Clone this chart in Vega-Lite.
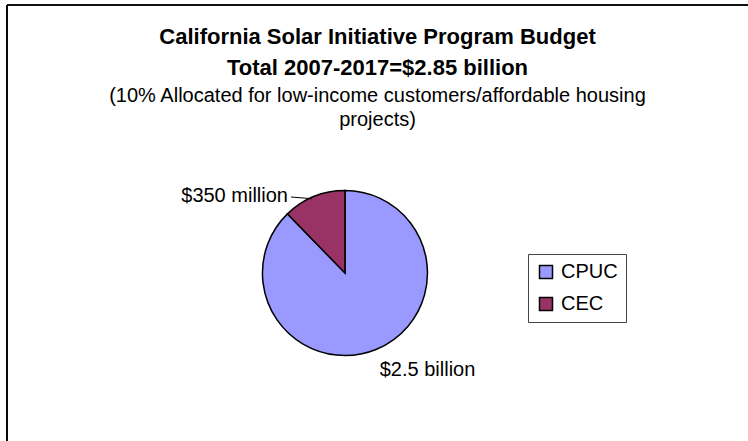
{
  "$schema": "https://vega.github.io/schema/vega-lite/v6.json",
  "width": 741,
  "height": 436,
  "autosize": {"type": "none"},
  "padding": {"left": 7, "top": 5, "right": 0, "bottom": 0},
  "background": "white",
  "config": {
    "view": {"stroke": null},
    "font": "Liberation Sans",
    "title": {"font": "Liberation Sans", "subtitleFont": "Liberation Sans"}
  },
  "title": {
    "text": ["California Solar Initiative Program Budget", "Total 2007-2017=$2.85 billion"],
    "subtitle": ["(10% Allocated for low-income customers/affordable housing", "projects)"],
    "anchor": "middle",
    "frame": "group",
    "orient": "top",
    "offset": -127,
    "fontSize": 22,
    "fontWeight": "bold",
    "lineHeight": 31,
    "color": "black",
    "subtitleFontSize": 20,
    "subtitleLineHeight": 24,
    "subtitleColor": "black",
    "subtitlePadding": 6
  },
  "data": {
    "values": [
      {"agency": "CPUC", "amount": 2500, "label": "$2.5 billion"},
      {"agency": "CEC", "amount": 350, "label": "$350 million"}
    ]
  },
  "layer": [
    {
      "mark": {"type": "rule", "color": "black", "strokeWidth": 1.6},
      "encoding": {
        "x": {"datum": 0, "type": "quantitative", "scale": {"domain": [0, 1]}, "axis": null}
      }
    },
    {
      "mark": {"type": "rule", "color": "black", "strokeWidth": 1.6},
      "encoding": {
        "y": {"datum": 1, "type": "quantitative", "scale": {"domain": [0, 1]}, "axis": null}
      }
    },
    {
      "mark": {"type": "arc", "outerRadius": 82.5, "stroke": "black", "strokeWidth": 1.5},
      "encoding": {
        "theta": {"field": "amount", "type": "quantitative", "stack": true},
        "order": {"field": "amount", "sort": "descending"},
        "x": {"datum": 0.4561, "type": "quantitative", "scale": {"domain": [0, 1]}, "axis": null},
        "y": {"datum": 0.3853, "type": "quantitative", "scale": {"domain": [0, 1]}, "axis": null},
        "color": {
          "field": "agency",
          "type": "nominal",
          "sort": ["CPUC", "CEC"],
          "scale": {"domain": ["CPUC", "CEC"], "range": ["#9999FF", "#993366"]},
          "legend": {
            "title": null,
            "orient": "none",
            "legendX": 521,
            "legendY": 249,
            "padding": 8,
            "strokeColor": "#444444",
            "fillColor": "white",
            "symbolType": "square",
            "symbolSize": 169,
            "symbolStrokeColor": "black",
            "symbolStrokeWidth": 1.5,
            "symbolOpacity": 1,
            "labelFontSize": 20,
            "labelColor": "black",
            "labelFont": "Liberation Sans",
            "labelOffset": 5,
            "rowPadding": 12
          }
        }
      }
    },
    {
      "transform": [{"filter": "datum.agency === 'CPUC'"}],
      "mark": {"type": "text", "fontSize": 20, "align": "center", "baseline": "alphabetic", "color": "black"},
      "encoding": {
        "text": {"field": "label"},
        "x": {"datum": 0.5675, "type": "quantitative", "scale": {"domain": [0, 1]}, "axis": null},
        "y": {"datum": 0.1491, "type": "quantitative", "scale": {"domain": [0, 1]}, "axis": null}
      }
    },
    {
      "transform": [{"filter": "datum.agency === 'CEC'"}],
      "mark": {"type": "text", "fontSize": 20, "align": "right", "baseline": "alphabetic", "color": "black"},
      "encoding": {
        "text": {"field": "label"},
        "x": {"datum": 0.3792, "type": "quantitative", "scale": {"domain": [0, 1]}, "axis": null},
        "y": {"datum": 0.5482, "type": "quantitative", "scale": {"domain": [0, 1]}, "axis": null}
      }
    },
    {
      "transform": [{"filter": "datum.agency === 'CEC'"}],
      "mark": {"type": "rule", "color": "black", "strokeWidth": 1},
      "encoding": {
        "x": {"datum": 0.3833, "type": "quantitative", "scale": {"domain": [0, 1]}, "axis": null},
        "x2": {"datum": 0.4114},
        "y": {"datum": 0.5596, "type": "quantitative", "scale": {"domain": [0, 1]}, "axis": null},
        "y2": {"datum": 0.5557}
      }
    }
  ]
}
